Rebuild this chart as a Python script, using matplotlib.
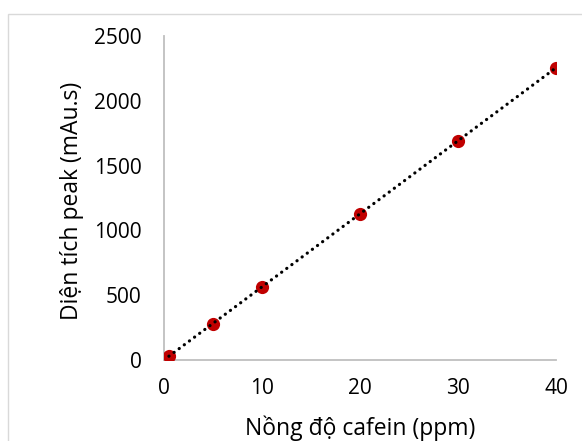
import numpy as np
import matplotlib.pyplot as plt
from matplotlib.patches import Rectangle

plt.rcParams['font.family'] = ['Open Sans', 'DejaVu Sans']

# nồng độ cafein (ppm) và diện tích peak (mAu.s)
conc = [0.5, 5, 10, 20, 30, 40]
area = [30, 280, 565, 1130, 1690, 2255]
xticks = [0, 10, 20, 30, 40]
yticks = [0, 500, 1000, 1500, 2000, 2500]

fig = plt.figure(figsize=(5.82, 4.41), dpi=100)
ax = fig.add_axes([164 / 582, 1 - 360 / 441, 392 / 582, 324 / 441])

# khung ngoài kiểu Excel
fig.patches.append(Rectangle((8 / 582, -0.1), 1.2, 1.1 - 14 / 441,
                             transform=fig.transFigure, fill=False,
                             edgecolor='#d9d9d9', linewidth=1.0))

ax.plot(conc, area, 'o', color='#c00000', markersize=9.5, markeredgewidth=0,
        zorder=3)

# đường xu hướng tuyến tính
k, b = np.polyfit(conc, area, 1)
xs = np.array([conc[0], conc[-1]])
ax.plot(xs, k * xs + b, color='black', linewidth=2.3,
        linestyle=(0, (0.05, 1.95)), dash_capstyle='round', zorder=4)

ax.set_xlim(0, 40)
ax.set_ylim(0, 2500)
ax.set_xticks(xticks)
ax.set_yticks(yticks)
ax.tick_params(axis='both', length=0, labelsize=15, colors='black')
ax.tick_params(axis='x', pad=13)
ax.tick_params(axis='y', pad=16)

for s in ['top', 'right']:
    ax.spines[s].set_visible(False)
for s in ['left', 'bottom']:
    ax.spines[s].set_color('#bfbfbf')
    ax.spines[s].set_linewidth(1.3)

ax.set_xlabel('Nồng độ cafein (ppm)', fontsize=16.5)
ax.set_ylabel('Diện tích peak (mAu.s)', fontsize=16.5)
ax.xaxis.set_label_coords(0.5, -0.21)
ax.xaxis.label.set_verticalalignment('center')
ax.yaxis.set_label_coords(-0.235, 0.49)
ax.yaxis.label.set_verticalalignment('center')

fig.savefig('out.png', dpi=100)
